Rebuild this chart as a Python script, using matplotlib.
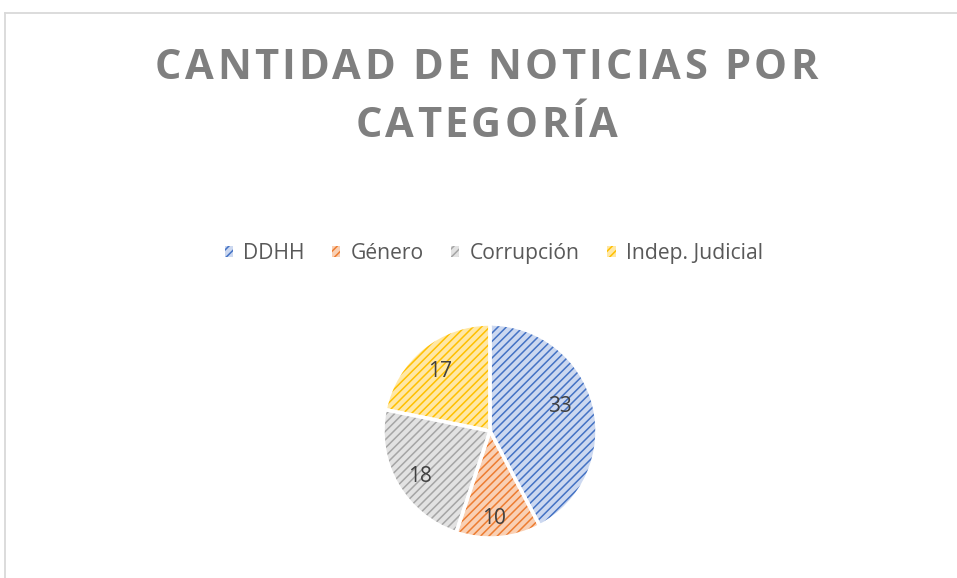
import matplotlib
matplotlib.use("Agg")
import matplotlib.pyplot as plt
from matplotlib.lines import Line2D
from matplotlib.font_manager import FontProperties, findfont
from matplotlib.ft2font import FT2Font
from matplotlib.textpath import TextPath
import numpy as np

categories = ["DDHH", "Género", "Corrupción", "Indep. Judicial"]
values = [33, 10, 18, 17]
title_lines = ["CANTIDAD DE NOTICIAS POR", "CATEGORÍA"]

line_colors = ["#4472C4", "#ED7D31", "#A5A5A5", "#FFC000"]
fill_colors = ["#CCD8F0", "#F9D0B4", "#E2E2E2", "#FFE8A6"]
label_dist = [0.70, 0.80, 0.77, 0.74]
label_shift = [7, -2, 2, 0]  # degrees

plt.rcParams["hatch.linewidth"] = 1.1

W, H = 957, 578
DPI = 100
fig = plt.figure(figsize=(W / DPI, H / DPI), dpi=DPI)

# chart border (light gray)
x0 = 5 / W
ytop = 1 - 13 / H
fig.add_artist(Line2D([x0, x0], [-0.1, ytop], transform=fig.transFigure, color="#D9D9D9", lw=1.3))
fig.add_artist(Line2D([x0, 1.1], [ytop, ytop], transform=fig.transFigure, color="#D9D9D9", lw=1.3))

# ---- title with letter spacing ----
TSIZE = 30
tprop = FontProperties(family="Open Sans", weight="bold", size=TSIZE)
ft = FT2Font(findfont(tprop))
ft.set_size(TSIZE, DPI)


def advances(s):
    return [ft.load_char(ord(ch)).linearHoriAdvance / 65536.0 for ch in s]


def ink_extent(s):
    """(left bearing of first glyph, right side bearing of last glyph) in px."""
    ex0 = TextPath((0, 0), s[0], prop=tprop).get_extents()
    exn = TextPath((0, 0), s[-1], prop=tprop).get_extents()
    a_last = advances(s[-1])[0]
    k = DPI / 72.0
    return ex0.x0 * k, a_last - exn.x1 * k


def ink_width(s, extra):
    adv = advances(s)
    lsb, rsb = ink_extent(s)
    return sum(adv) + (len(s) - 1) * extra - lsb - rsb


target_w = 660.0
extra = (target_w - ink_width(title_lines[0], 0.0)) / (len(title_lines[0]) - 1)
title_cx = 487.5
baselines = [79, 137]
for line, yb in zip(title_lines, baselines):
    adv = advances(line)
    lsb, _ = ink_extent(line)
    origin = title_cx - ink_width(line, extra) / 2 - lsb
    for ch, a in zip(line, adv):
        if ch != " ":
            fig.text(origin / W, 1 - yb / H, ch, ha="left", va="baseline",
                     fontproperties=tprop, color="#7F7F7F")
        origin += a + extra

# ---- pie ----
ax = fig.add_axes([383 / W, 1 - 538 / H, 214 / W, 214 / H])
wedges, _ = ax.pie(values, startangle=90, counterclock=False, radius=1,
                   colors=fill_colors, wedgeprops=dict(linewidth=0))
for w, lc in zip(wedges, line_colors):
    w.set_edgecolor(lc)
    w.set_hatch("////")
    w.set_linewidth(0)
    w.set_clip_on(False)
edges, _ = ax.pie(values, startangle=90, counterclock=False, radius=1,
                  colors=["none"] * len(values),
                  wedgeprops=dict(linewidth=2.5, edgecolor="white"))
for e in edges:
    e.set_clip_on(False)
ax.set_xlim(-1, 1)
ax.set_ylim(-1, 1)
ax.set_aspect("equal")

for w, v, d, s in zip(wedges, values, label_dist, label_shift):
    ang = np.deg2rad((w.theta1 + w.theta2) / 2 + s)
    ax.text(d * np.cos(ang), d * np.sin(ang) - 0.02, str(v), ha="center", va="center",
            fontsize=15, color="#404040", family="Open Sans")

# ---- legend ----
leg = fig.legend(handles=wedges, labels=categories, loc="center",
                 bbox_to_anchor=(494 / W, 1 - 253.5 / H), ncol=4, frameon=False,
                 handlelength=0.38, handleheight=0.38, handletextpad=0.5,
                 columnspacing=1.3, borderpad=0, prop=dict(family="Open Sans", size=15.2))
for t in leg.get_texts():
    t.set_color("#595959")

fig.savefig("out.png", dpi=DPI, facecolor="white")
